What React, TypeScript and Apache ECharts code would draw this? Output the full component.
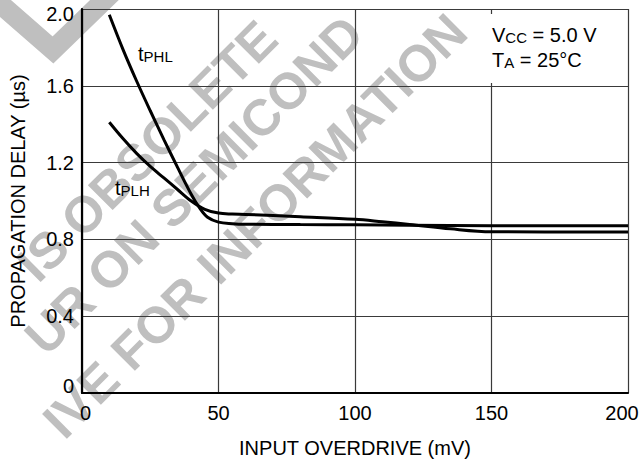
import React, { useEffect, useRef } from "react";
import * as echarts from "echarts";

// Input overdrive (mV) sample points and propagation delay (µs)
const phlX = [10, 15, 20, 25, 30, 35, 40, 43, 46, 50, 55, 60, 80, 100, 120, 150, 200];
const phlY = [1.97, 1.79, 1.625, 1.47, 1.32, 1.175, 1.035, 0.965, 0.915, 0.89, 0.882, 0.879, 0.877, 0.876, 0.874, 0.871, 0.871];
const plhX = [10, 15, 20, 25, 30, 35, 40, 45, 50, 55, 60, 80, 100, 110, 120, 135, 150, 200];
const plhY = [1.41, 1.325, 1.248, 1.18, 1.12, 1.06, 1.0, 0.957, 0.937, 0.932, 0.93, 0.918, 0.905, 0.892, 0.878, 0.855, 0.84, 0.838];

const xTicks = [0, 50, 100, 150, 200];
const yTicks = ["0", "0.4", "0.8", "1.2", "1.6", "2.0"];

const FONT = "'Liberation Sans', Arial, Helvetica, sans-serif";
const WM = "#bfbfbf";
const WM_FONT = "bold 51px 'Liberation Sans', Arial, sans-serif";

const richLabel = (x: number, y: number, parts: [string, string][]) => ({
  type: "text",
  x,
  y,
  z: 51,
  silent: true,
  style: {
    text: parts.map(([k, t]) => `{${k}|${t}}`).join(""),
    align: "left",
    verticalAlign: "top",
    fill: "#000",
    fontFamily: FONT,
    fontSize: 20,
    rich: {
      m: { fontSize: 20, lineHeight: 20, fontFamily: FONT, fill: "#000", verticalAlign: "top" },
      s: { fontSize: 15, lineHeight: 15, fontFamily: FONT, fill: "#000", padding: [9, 0, 0, 0], verticalAlign: "bottom" },
    },
  },
});

const watermark = (x: number, y: number, text: string) => ({
  type: "text",
  x,
  y,
  rotation: Math.PI / 4,
  z: -1,
  silent: true,
  style: { text, font: WM_FONT, fill: WM, align: "center", verticalAlign: "middle" },
});

export default function App() {
  const ref = useRef<HTMLDivElement>(null);
  useEffect(() => {
    if (!ref.current) return;
    const chart = echarts.init(ref.current, null, { renderer: "svg" });
    const pairs = (xs: number[], ys: number[]) => xs.map((x, i) => [x, ys[i]]);
    chart.setOption({
      animation: false,
      backgroundColor: "#fff",
      grid: { left: 82, right: 14, top: 9, bottom: 67, containLabel: false, outerBoundsMode: "none" },
      xAxis: {
        type: "value",
        min: 0,
        max: 200,
        interval: 50,
        name: "INPUT OVERDRIVE (mV)",
        nameLocation: "middle",
        nameGap: 45,
        nameTextStyle: { fontSize: 20, color: "#000", fontFamily: FONT },
        axisLine: { show: true, lineStyle: { color: "#000", width: 2.2 } },
        axisTick: { show: false },
        axisLabel: {
          color: "#000",
          fontSize: 20,
          fontFamily: FONT,
          margin: 10,
          formatter: (v: number) => {
            const s = String(xTicks[xTicks.indexOf(v)] ?? v);
            if (v === 0) return `{l|${s}}`;
            if (v === 200) return `{r|${s}}`;
            return s;
          },
          rich: {
            l: { fontSize: 20, fontFamily: FONT, color: "#000", padding: [0, 0, 0, 7] },
            r: { fontSize: 20, fontFamily: FONT, color: "#000", padding: [0, 12, 0, 0] },
          },
        },
        splitLine: { show: true, lineStyle: { color: "#3a3a3a", width: 1.2 } },
      },
      yAxis: {
        type: "value",
        min: 0,
        max: 2,
        interval: 0.4,
        name: "PROPAGATION DELAY (µs)",
        nameLocation: "middle",
        nameGap: 54,
        nameTextStyle: { fontSize: 20, color: "#000", fontFamily: FONT },
        axisLine: { show: true, lineStyle: { color: "#000", width: 2.2 } },
        axisTick: { show: false },
        axisLabel: {
          color: "#000",
          fontSize: 20,
          fontFamily: FONT,
          margin: 8,
          formatter: (v: number) => {
            const idx = Math.round(v / 0.4);
            const s = yTicks[idx] ?? v.toFixed(1);
            if (idx === 0) return `{b|${s}}`;
            if (idx === 5) return `{t|${s}}`;
            return s;
          },
          rich: {
            b: { fontSize: 20, fontFamily: FONT, color: "#000", padding: [0, 0, 14, 0] },
            t: { fontSize: 20, fontFamily: FONT, color: "#000", padding: [9, 0, 0, 0] },
          },
        },
        splitLine: { show: true, lineStyle: { color: "#3a3a3a", width: 1.2 } },
      },
      graphic: {
        elements: [
          {
            type: "polyline",
            z: -1,
            silent: true,
            shape: { points: [[-10, -5], [53, 50], [125, -20]] },
            style: { stroke: WM, lineWidth: 20, fill: null, lineJoin: "miter" },
          },
          watermark(147, 151, "IS OBSOLETE"),
          watermark(194, 185, "UR ON SEMICOND"),
          watermark(255, 226, "IVE FOR INFORMATION"),
          {
            type: "rect", z: 50, silent: true,
            shape: { x: 484, y: 14, width: 136, height: 69 },
            style: { fill: "#fff" },
          },
          richLabel(492, 25, [["m", "V"], ["s", "CC"], ["m", " = 5.0 V"]]),
          richLabel(492, 50, [["m", "T"], ["s", "A"], ["m", " = 25°C"]]),
          richLabel(138, 44, [["m", "t"], ["s", "PHL"]]),
          richLabel(115, 178, [["m", "t"], ["s", "PLH"]]),
        ],
      },
      series: [
        {
          name: "tPHL",
          type: "line",
          data: pairs(phlX, phlY),
          showSymbol: false,
          smooth: 0.35,
          lineStyle: { color: "#000", width: 3 },
          z: 10,
        },
        {
          name: "tPLH",
          type: "line",
          data: pairs(plhX, plhY),
          showSymbol: false,
          smooth: 0.35,
          lineStyle: { color: "#000", width: 3 },
          z: 10,
        },
      ],
    });
    return () => chart.dispose();
  }, []);
  return (
    <div
      ref={ref}
      style={{ position: "fixed", left: 0, top: 0, width: 642, height: 460, background: "#fff" }}
    />
  );
}
